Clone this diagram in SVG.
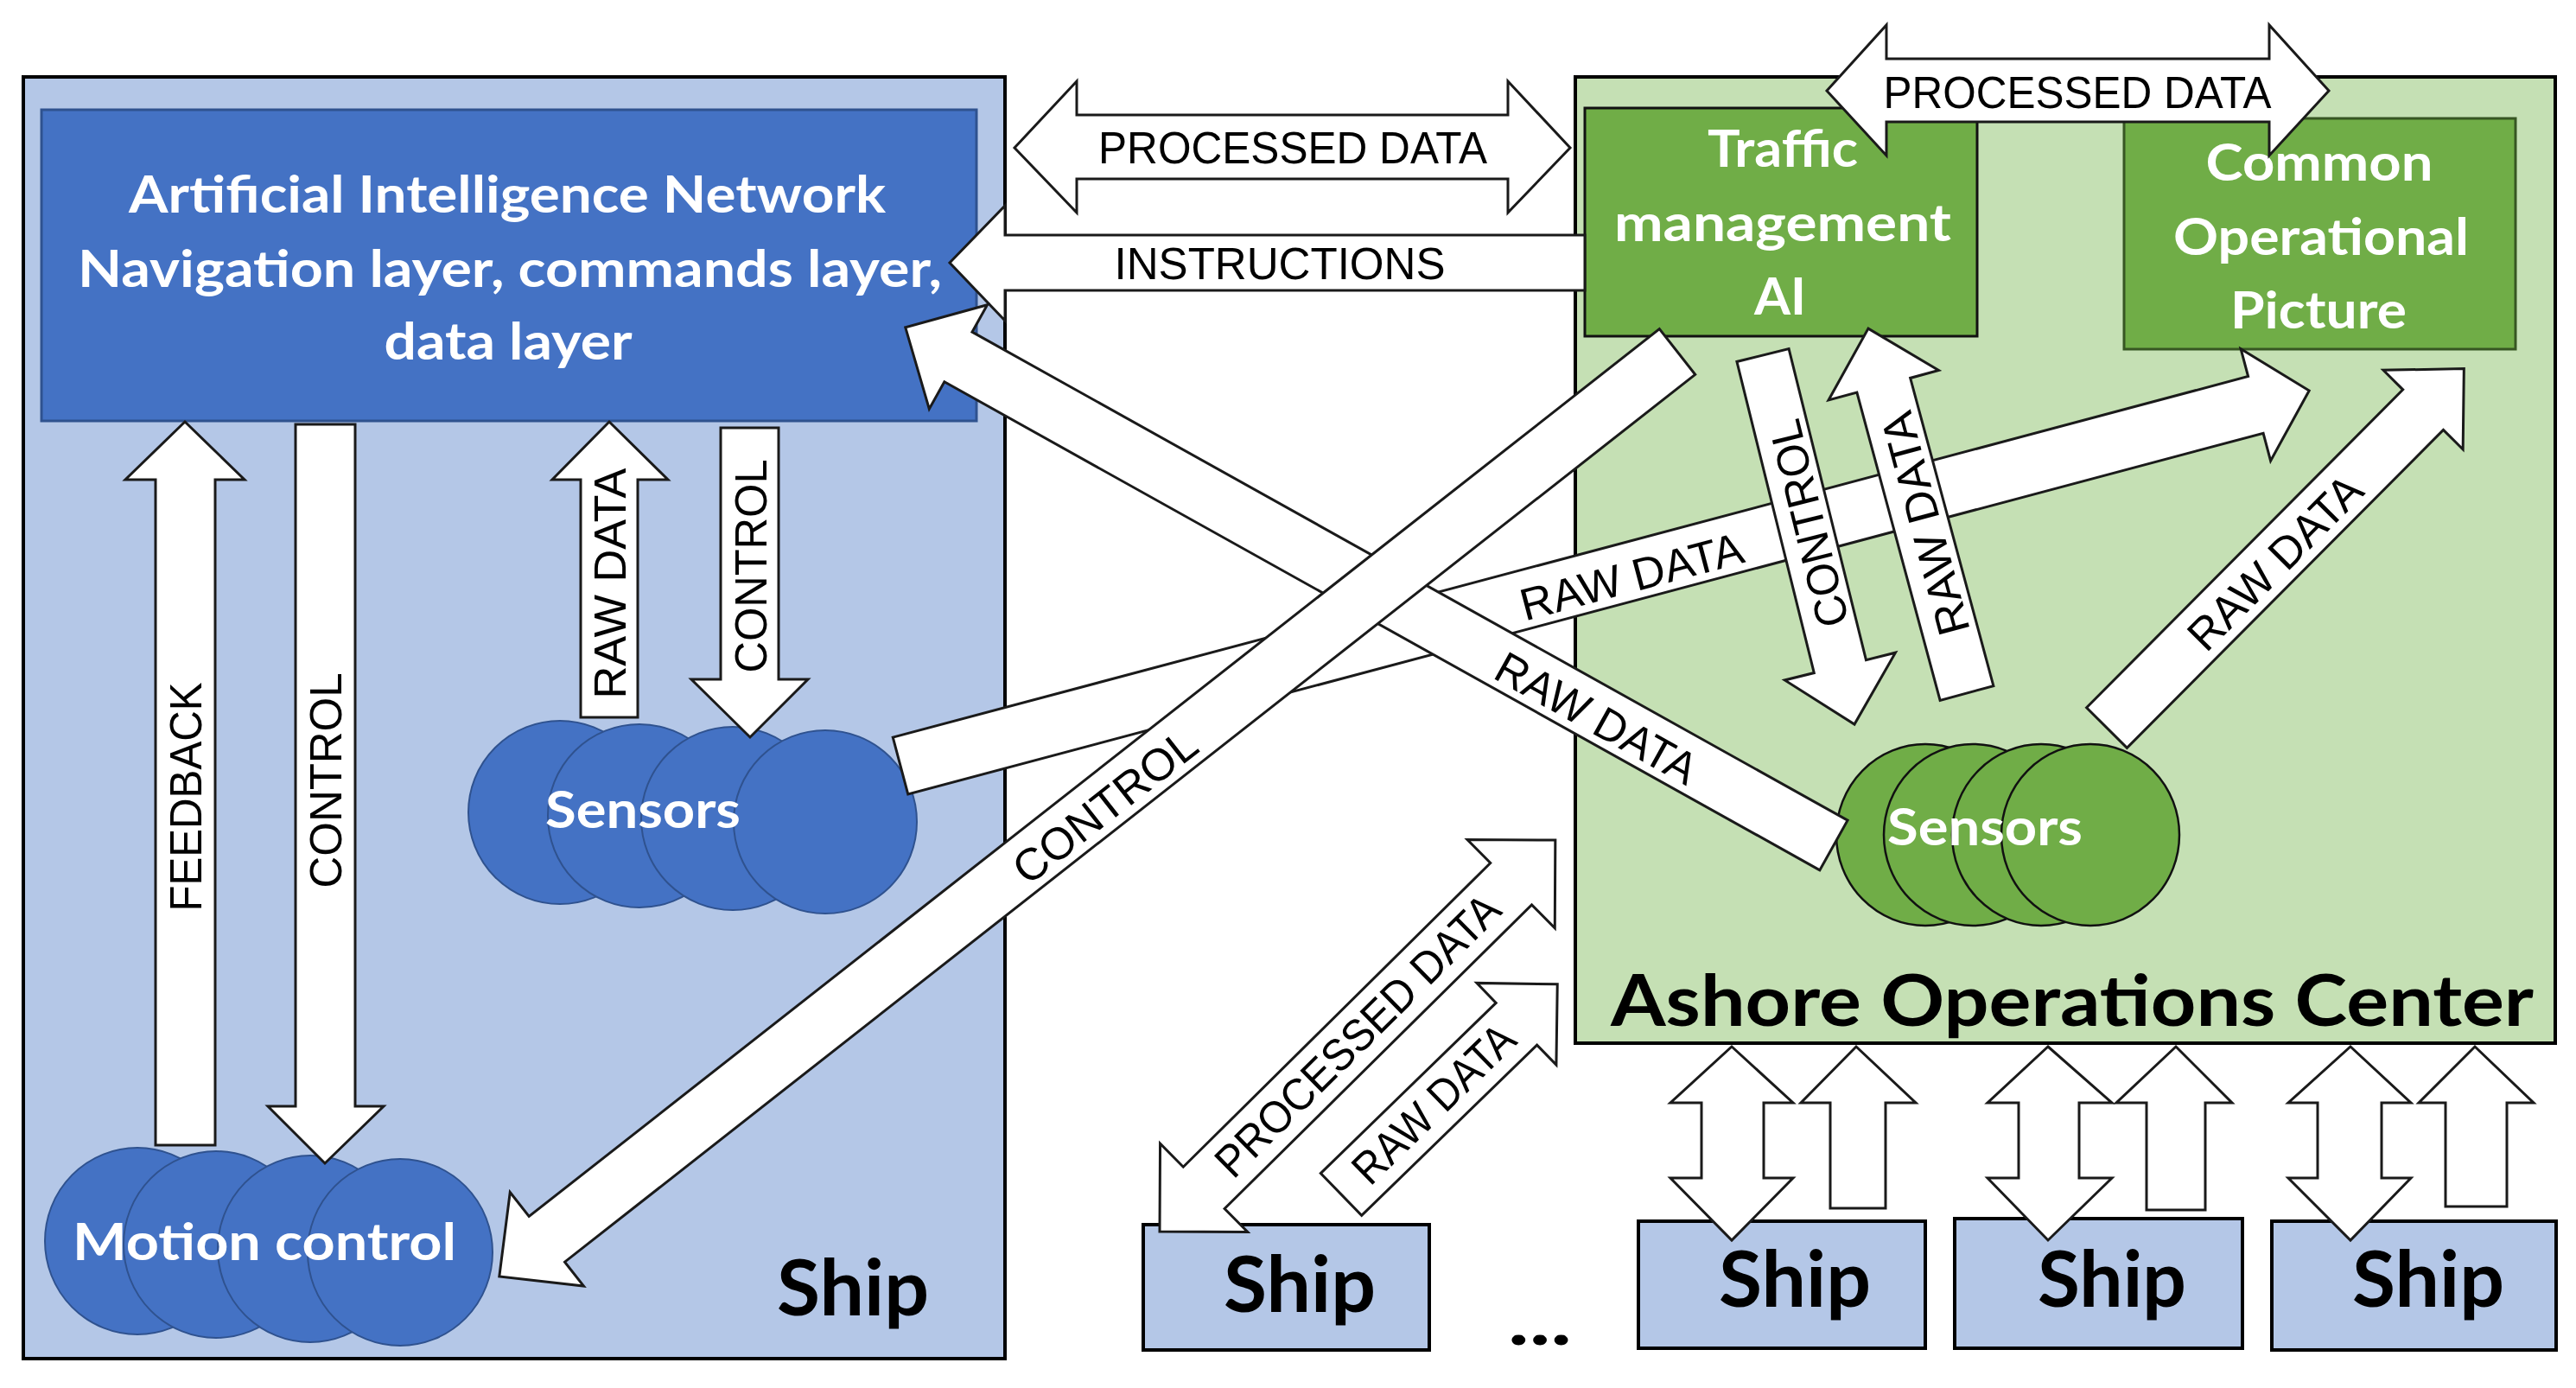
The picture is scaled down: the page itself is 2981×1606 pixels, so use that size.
<svg xmlns="http://www.w3.org/2000/svg" width="2981" height="1606" viewBox="0 0 2981 1606">
<style>
.arr{fill:#fff;stroke:#1a1a1a;stroke-width:3;stroke-linejoin:miter}
.lbl{font-family:"Liberation Sans",Arial,sans-serif;font-size:52px;fill:#000}
.wl{font-family:Lato,"Open Sans",sans-serif;font-weight:bold;fill:#fff;font-size:60px}
.bl{font-family:Lato,"Open Sans",sans-serif;font-weight:bold;fill:#000}
.bsen{fill:#4472C4;stroke:#2F528F;stroke-width:2}
.gsen{fill:#70AD47;stroke:#111;stroke-width:2.5}
.sbox{fill:#B4C7E7;stroke:#000;stroke-width:4}
</style>
<rect width="2981" height="1606" fill="#fff"/>

<g id="ship-main">
<rect x="27" y="89" width="1136" height="1483" fill="#B4C7E7" stroke="#000" stroke-width="4"/>
<text class="bl" x="987" y="1522" font-size="90" text-anchor="middle" textLength="176" lengthAdjust="spacingAndGlyphs">Ship</text>
</g>

<g id="ashore">
<rect x="1823" y="89" width="1134" height="1118" fill="#C5E0B4" stroke="#000" stroke-width="4"/>
<text class="bl" x="2398" y="1187" font-size="82" text-anchor="middle" textLength="1068" lengthAdjust="spacingAndGlyphs">Ashore Operations Center</text>
</g>

<g id="ai-network">
<rect x="48" y="127" width="1082" height="360" fill="#4472C4" stroke="#2F528F" stroke-width="3"/>
<text class="wl" x="587" y="246" text-anchor="middle" textLength="876" lengthAdjust="spacingAndGlyphs">Artificial Intelligence Network</text>
<text class="wl" x="590" y="332" text-anchor="middle" textLength="1000" lengthAdjust="spacingAndGlyphs">Navigation layer, commands layer,</text>
<text class="wl" x="588" y="416" text-anchor="middle" textLength="287" lengthAdjust="spacingAndGlyphs">data layer</text>
</g>

<g id="traffic-ai">
<rect x="1834" y="125" width="454" height="264" fill="#70AD47" stroke="#111" stroke-width="3"/>
<text class="wl" x="2063" y="193" text-anchor="middle" textLength="174" lengthAdjust="spacingAndGlyphs">Traffic</text>
<text class="wl" x="2063" y="279" text-anchor="middle" textLength="390" lengthAdjust="spacingAndGlyphs">management</text>
<text class="wl" x="2060" y="364" text-anchor="middle" textLength="60" lengthAdjust="spacingAndGlyphs">AI</text>
</g>

<g id="cop">
<rect x="2458" y="137" width="453" height="267" fill="#70AD47" stroke="#375623" stroke-width="3"/>
<text class="wl" x="2684" y="209" text-anchor="middle" textLength="263" lengthAdjust="spacingAndGlyphs">Common</text>
<text class="wl" x="2686" y="295" text-anchor="middle" textLength="342" lengthAdjust="spacingAndGlyphs">Operational</text>
<text class="wl" x="2683" y="380" text-anchor="middle" textLength="204" lengthAdjust="spacingAndGlyphs">Picture</text>
</g>

<g id="ship-sensors">
<ellipse class="bsen" cx="648" cy="940" rx="106" ry="106"/>
<ellipse class="bsen" cx="740" cy="944" rx="106" ry="106"/>
<ellipse class="bsen" cx="848" cy="947" rx="106" ry="106"/>
<ellipse class="bsen" cx="955" cy="951" rx="106" ry="106"/>
<text class="wl" x="744" y="958" text-anchor="middle" textLength="226" lengthAdjust="spacingAndGlyphs">Sensors</text>
</g>

<g id="motion-control">
<ellipse class="bsen" cx="159" cy="1436" rx="107" ry="108"/>
<ellipse class="bsen" cx="250" cy="1440" rx="107" ry="108"/>
<ellipse class="bsen" cx="359" cy="1445" rx="107" ry="108"/>
<ellipse class="bsen" cx="463" cy="1449" rx="107" ry="108"/>
<text class="wl" x="306" y="1458" text-anchor="middle" textLength="444" lengthAdjust="spacingAndGlyphs">Motion control</text>
</g>

<g id="ashore-sensors">
<ellipse class="gsen" cx="2228" cy="966" rx="103" ry="105"/>
<ellipse class="gsen" cx="2283" cy="966" rx="103" ry="105"/>
<ellipse class="gsen" cx="2362" cy="966" rx="103" ry="105"/>
<ellipse class="gsen" cx="2419" cy="966" rx="103" ry="105"/>
<text class="wl" x="2297" y="978" text-anchor="middle" textLength="226" lengthAdjust="spacingAndGlyphs">Sensors</text>
</g>

<g id="ship-1">
<rect class="sbox" x="1323" y="1417" width="331" height="145"/>
<text class="bl" x="1504" y="1518" font-size="90" text-anchor="middle" textLength="176" lengthAdjust="spacingAndGlyphs">Ship</text>
</g>
<g id="ellipsis">
<text class="bl" x="1782" y="1556" font-size="80" text-anchor="middle" textLength="74" lengthAdjust="spacingAndGlyphs">...</text>
</g>
<g id="ship-2">
<rect class="sbox" x="1896" y="1413" width="332" height="147"/>
<text class="bl" x="2077" y="1512" font-size="90" text-anchor="middle" textLength="176" lengthAdjust="spacingAndGlyphs">Ship</text>
</g>
<g id="ship-3">
<rect class="sbox" x="2262" y="1410" width="333" height="150"/>
<text class="bl" x="2444" y="1512" font-size="90" text-anchor="middle" textLength="172" lengthAdjust="spacingAndGlyphs">Ship</text>
</g>
<g id="ship-4">
<rect class="sbox" x="2629" y="1413" width="329" height="149"/>
<text class="bl" x="2810" y="1512" font-size="90" text-anchor="middle" textLength="176" lengthAdjust="spacingAndGlyphs">Ship</text>
</g>

<g id="connectors">
<!-- ship internal -->
<polygon class="arr" points="214,488 283,555 249,555 249,1325 180,1325 180,555 145,555"/>
<text class="lbl" transform="translate(214,922) rotate(-90)" x="0" y="19" text-anchor="middle" textLength="265" lengthAdjust="spacingAndGlyphs">FEEDBACK</text>
<polygon class="arr" points="342,491 411,491 411,1280 444,1280 376,1346 310,1280 342,1280"/>
<text class="lbl" transform="translate(376,903) rotate(-90)" x="0" y="19" text-anchor="middle" textLength="249" lengthAdjust="spacingAndGlyphs">CONTROL</text>
<polygon class="arr" points="705,488 773,555 738,555 738,830 672,830 672,555 639,555"/>
<text class="lbl" transform="translate(705,675) rotate(-90)" x="0" y="19" text-anchor="middle" textLength="267" lengthAdjust="spacingAndGlyphs">RAW DATA</text>
<polygon class="arr" points="834,495 901,495 901,786 935,786 868,853 800,786 834,786"/>
<text class="lbl" transform="translate(868,655) rotate(-90)" x="0" y="19" text-anchor="middle" textLength="247" lengthAdjust="spacingAndGlyphs">CONTROL</text>

<!-- horizontal top arrows -->
<polygon class="arr" points="1174,171 1246,94 1246,133 1745,133 1745,94 1817,171 1745,246 1745,207 1246,207 1246,246"/>
<text class="lbl" x="1496" y="189" font-size="52" text-anchor="middle" textLength="450" lengthAdjust="spacingAndGlyphs">PROCESSED DATA</text>
<polygon class="arr" points="1099,304 1163,238 1163,272 1834,272 1834,336 1163,336 1163,371"/>
<text class="lbl" x="1481" y="323" font-size="54" text-anchor="middle" textLength="383" lengthAdjust="spacingAndGlyphs">INSTRUCTIONS</text>
<polygon class="arr" points="2114,105 2183,29 2183,68 2626,68 2626,29 2695,105 2626,180 2626,141 2183,141 2183,180"/>
<text class="lbl" x="2404" y="125" font-size="57" text-anchor="middle" textLength="449" lengthAdjust="spacingAndGlyphs">PROCESSED DATA</text>

<!-- ship sensors -> COP -->
<g transform="translate(1042,886) rotate(-14.91)">
<polygon class="arr" points="0,-34 1623,-34 1623,-67 1687,0 1623,67 1623,34 0,34"/>
</g>
<text class="lbl" transform="translate(1888,666) rotate(-14.91)" x="0" y="19" text-anchor="middle" textLength="265" lengthAdjust="spacingAndGlyphs">RAW DATA</text>

<!-- ashore sensors -> AI network -->
<g transform="translate(2122,978) rotate(-150.85)">
<polygon class="arr" points="0,-33 1160,-33 1160,-69 1230,0 1160,69 1160,33 0,33"/>
</g>
<text class="lbl" transform="translate(1848,830) rotate(29.15)" x="0" y="19" text-anchor="middle" textLength="258" lengthAdjust="spacingAndGlyphs">RAW DATA</text>

<!-- traffic AI <-> ashore sensors -->
<g transform="translate(2040,411) rotate(76.06)">
<polygon class="arr" points="0,-31 371,-31 371,-66 440,0 371,66 371,31 0,31"/>
</g>
<text class="lbl" transform="translate(2092,606) rotate(-103.94)" x="0" y="19" text-anchor="middle" textLength="245" lengthAdjust="spacingAndGlyphs">CONTROL</text>
<g transform="translate(2276,802) rotate(-105.12)">
<polygon class="arr" points="0,-32 369,-32 369,-66 437,0 369,66 369,32 0,32"/>
</g>
<text class="lbl" transform="translate(2227,606) rotate(-105.12)" x="0" y="19" text-anchor="middle" textLength="265" lengthAdjust="spacingAndGlyphs">RAW DATA</text>

<!-- ashore sensors -> COP -->
<g transform="translate(2438,842) rotate(-45.14)">
<polygon class="arr" points="0,-33 519,-33 519,-65 586,0 519,65 519,33 0,33"/>
</g>
<text class="lbl" transform="translate(2632,650) rotate(-45.14)" x="0" y="19" text-anchor="middle" textLength="262" lengthAdjust="spacingAndGlyphs">RAW DATA</text>

<!-- traffic AI -> motion control -->
<g transform="translate(1941,407) rotate(141.87)">
<polygon class="arr" points="0,-33.5 1663,-33.5 1663,-69 1733,0 1663,69 1663,33.5 0,33.5"/>
</g>
<text class="lbl" transform="translate(1278,932) rotate(-38.13)" x="0" y="19" text-anchor="middle" textLength="255" lengthAdjust="spacingAndGlyphs">CONTROL</text>

<!-- ship 1 <-> ashore -->
<g transform="translate(1342,1425) rotate(-44.69)">
<polygon class="arr" points="0,0 72,-72 72,-34 572,-34 572,-72 644,0 572,72 572,34 72,34 72,72"/>
</g>
<text class="lbl" transform="translate(1571,1198) rotate(-44.69)" x="0" y="18" font-size="50" text-anchor="middle" textLength="440" lengthAdjust="spacingAndGlyphs">PROCESSED DATA</text>
<g transform="translate(1552,1382) rotate(-44.19)">
<polygon class="arr" points="0,-34 283,-34 283,-66 349,0 283,66 283,34 0,34"/>
</g>
<text class="lbl" transform="translate(1659,1277) rotate(-44.19)" x="0" y="18" font-size="50" text-anchor="middle" textLength="240" lengthAdjust="spacingAndGlyphs">RAW DATA</text>

<!-- ashore <-> ships -->
<polygon class="arr" points="2004,1211 2075,1276 2041,1276 2041,1363 2075,1363 2004,1435 1933,1363 1969,1363 1969,1276 1933,1276"/>
<polygon class="arr" points="2148,1211 2217,1276 2182,1276 2182,1398 2118,1398 2118,1276 2084,1276"/>
<polygon class="arr" points="2370,1211 2444,1276 2406,1276 2406,1363 2444,1363 2370,1435 2300,1363 2336,1363 2336,1276 2300,1276"/>
<polygon class="arr" points="2518,1211 2583,1276 2552,1276 2552,1400 2484,1400 2484,1276 2449,1276"/>
<polygon class="arr" points="2720,1211 2790,1276 2756,1276 2756,1363 2790,1363 2720,1435 2648,1363 2682,1363 2682,1276 2648,1276"/>
<polygon class="arr" points="2864,1211 2932,1276 2901,1276 2901,1396 2830,1396 2830,1276 2799,1276"/>
</g>
</svg>
